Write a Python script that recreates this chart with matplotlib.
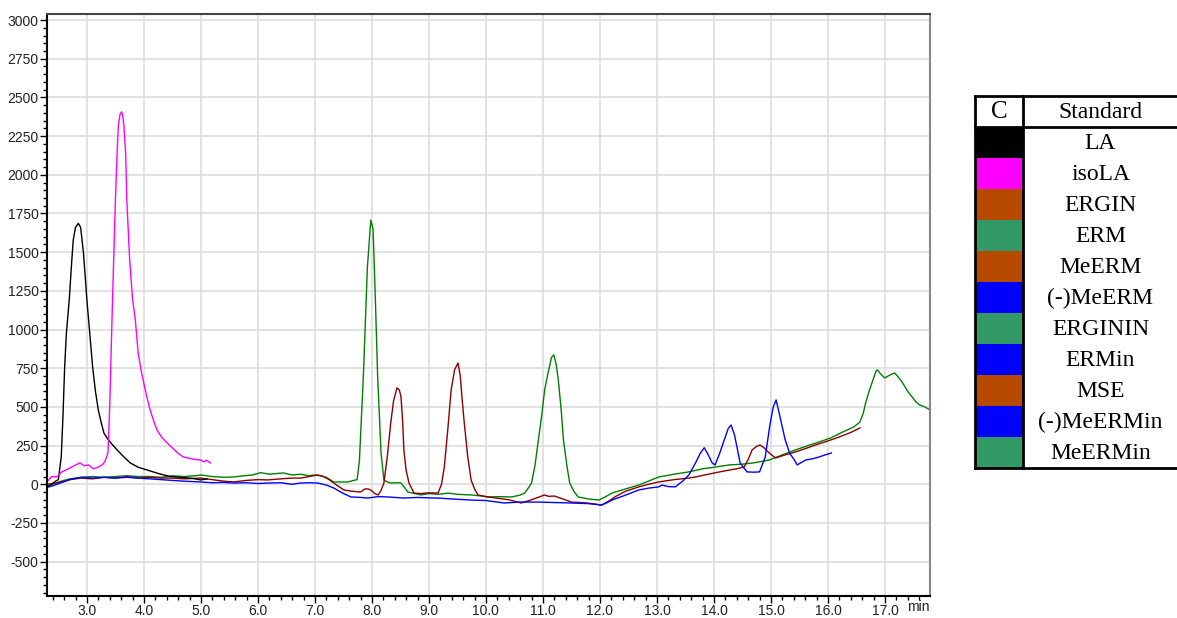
import matplotlib
matplotlib.use("Agg")
import matplotlib.pyplot as plt
from matplotlib.patches import Rectangle
from matplotlib.ticker import MultipleLocator, FormatStrFormatter

plt.rcParams["font.family"] = ["Liberation Sans", "DejaVu Sans"]
plt.rcParams["axes.unicode_minus"] = False

# ---------------------------------------------------------------------------
# Chromatogram traces (retention time in min, detector response)
# ---------------------------------------------------------------------------

black_t = [2.31, 2.38, 2.45, 2.50, 2.55, 2.58, 2.61, 2.64, 2.69, 2.73, 2.76, 2.80,
           2.85, 2.89, 2.94, 3.00, 3.05, 3.10, 3.15, 3.20, 3.25, 3.30, 3.37, 3.45,
           3.53, 3.64, 3.76, 3.90, 4.06, 4.25, 4.46, 4.65, 4.85, 5.00, 5.11]
black_v = [-17, 0, 20, 30, 178, 440, 760, 977, 1190, 1420, 1578, 1660,
           1686, 1660, 1494, 1190, 977, 760, 600, 480, 400, 330, 290, 255,
           222, 180, 138, 110, 92, 70, 50, 45, 38, 28, 35]

magenta_t = [2.31, 2.38, 2.47, 2.56, 2.65, 2.75, 2.88, 2.95, 3.03, 3.11, 3.20, 3.28,
             3.32, 3.37, 3.40, 3.45, 3.50, 3.53, 3.55, 3.58, 3.61, 3.63, 3.65, 3.68,
             3.70, 3.75, 3.80, 3.85, 3.90, 3.96, 4.05, 4.11, 4.18, 4.23, 4.32, 4.41,
             4.50, 4.60, 4.69, 4.80, 4.90, 4.99, 5.05, 5.10, 5.17]
magenta_v = [20, 50, 47, 80, 95, 115, 138, 120, 125, 100, 110, 130,
             150, 203, 500, 1200, 1837, 2138, 2310, 2390, 2407, 2380, 2310, 2138,
             1837, 1450, 1200, 1060, 846, 718, 566, 479, 400, 350, 300, 266,
             235, 200, 176, 168, 160, 157, 145, 155, 138]

green_t = [2.30, 2.40, 2.55, 2.70, 2.90, 3.10, 3.30, 3.50, 3.70, 3.90, 4.10, 4.30,
           4.50, 4.70, 4.90, 5.00, 5.20, 5.40, 5.57, 5.75, 5.90, 6.05, 6.20, 6.35,
           6.45, 6.60, 6.75, 6.90, 6.98, 7.10, 7.20, 7.33, 7.45, 7.58, 7.68, 7.74,
           7.78, 7.85, 7.92, 7.98, 8.02, 8.06, 8.10, 8.16, 8.21, 8.27, 8.33, 8.45,
           8.51, 8.57, 8.63, 8.75, 8.86, 9.00, 9.16, 9.34, 9.50, 9.74, 9.90, 10.04,
           10.25, 10.45, 10.60, 10.68, 10.75, 10.80, 10.86, 10.92, 10.98, 11.03, 11.09, 11.15,
           11.19, 11.23, 11.27, 11.32, 11.36, 11.42, 11.47, 11.55, 11.62, 11.80, 11.98, 12.10,
           12.21, 12.45, 12.68, 12.85, 13.03, 13.30, 13.56, 13.80, 14.00, 14.27, 14.50, 14.67,
           14.80, 14.97, 15.20, 15.43, 15.65, 15.85, 16.05, 16.26, 16.45, 16.56, 16.62, 16.66,
           16.72, 16.79, 16.84, 16.87, 16.93, 17.00, 17.08, 17.17, 17.24, 17.31, 17.40, 17.49,
           17.55, 17.61, 17.70, 17.79]
green_v = [-10, 0, 20, 35, 45, 50, 45, 50, 55, 50, 50, 45,
           55, 50, 55, 60, 50, 45, 47, 55, 60, 75, 65, 70,
           73, 60, 65, 55, 60, 55, 45, 15, 15, 15, 25, 30,
           150, 700, 1400, 1707, 1650, 1200, 700, 202, 28, 15, 8, 10,
           8, -20, -50, -60, -69, -60, -65, -57, -65, -69, -75, -82,
           -80, -82, -70, -57, -20, 8, 120, 286, 450, 610, 720, 820,
           836, 780, 674, 480, 286, 120, 8, -50, -82, -95, -102, -80,
           -57, -30, -5, 20, 47, 65, 80, 100, 110, 125, 130, 137,
           145, 157, 190, 222, 250, 274, 300, 338, 370, 402, 460, 525,
           600, 674, 730, 739, 710, 687, 705, 719, 690, 655, 600, 558,
           530, 512, 500, 480]

red_t = [2.30, 2.40, 2.55, 2.70, 2.90, 3.10, 3.30, 3.50, 3.70, 3.90, 4.10, 4.30,
         4.50, 4.70, 4.99, 5.20, 5.40, 5.57, 5.80, 6.00, 6.17, 6.40, 6.60, 6.75,
         6.90, 7.05, 7.15, 7.25, 7.33, 7.42, 7.51, 7.65, 7.80, 7.88, 7.93, 7.98,
         8.05, 8.11, 8.16, 8.21, 8.27, 8.33, 8.38, 8.44, 8.48, 8.51, 8.54, 8.56,
         8.60, 8.65, 8.74, 8.85, 9.00, 9.16, 9.22, 9.27, 9.33, 9.39, 9.45, 9.51,
         9.55, 9.58, 9.62, 9.68, 9.74, 9.80, 9.86, 10.00, 10.20, 10.40, 10.62, 10.80,
         10.95, 11.03, 11.10, 11.20, 11.35, 11.50, 11.75, 12.03, 12.15, 12.26, 12.45, 12.68,
         12.85, 13.03, 13.30, 13.56, 13.67, 13.90, 14.10, 14.27, 14.40, 14.53, 14.60, 14.67,
         14.75, 14.81, 14.88, 14.97, 15.08, 15.25, 15.43, 15.60, 15.78, 16.00, 16.20, 16.40,
         16.56]
red_v = [0, 5, 15, 30, 40, 35, 45, 40, 50, 40, 45, 40,
         40, 35, 40, 30, 20, 15, 25, 30, 28, 35, 40, 40,
         50, 60, 50, 30, 8, -15, -37, -45, -50, -30, -30, -37,
         -60, -69, -40, 8, 180, 396, 540, 623, 610, 566, 400, 222,
         90, 8, -57, -60, -55, -57, 0, 112, 350, 610, 740, 784,
         700, 560, 396, 180, 28, -30, -69, -80, -90, -100, -121, -100,
         -80, -69, -78, -76, -95, -115, -120, -134, -110, -82, -45, -17,
         0, 15, 30, 40, 47, 65, 80, 92, 100, 112, 160, 222,
         245, 254, 235, 202, 170, 190, 209, 230, 254, 280, 306, 335,
         364]

blue_t = [2.30, 2.40, 2.55, 2.70, 2.90, 3.10, 3.30, 3.50, 3.70, 3.90, 4.10, 4.30,
          4.50, 4.70, 4.99, 5.20, 5.40, 5.57, 5.80, 6.00, 6.17, 6.40, 6.60, 6.75,
          6.90, 7.05, 7.20, 7.33, 7.45, 7.63, 7.80, 7.93, 8.10, 8.28, 8.40, 8.56,
          8.80, 9.00, 9.16, 9.40, 9.74, 10.00, 10.32, 10.60, 10.92, 11.20, 11.50, 11.80,
          12.03, 12.12, 12.21, 12.45, 12.68, 12.85, 13.03, 13.09, 13.20, 13.32, 13.45, 13.56,
          13.68, 13.76, 13.83, 13.90, 13.97, 14.02, 14.10, 14.18, 14.25, 14.30, 14.36, 14.46,
          14.58, 14.70, 14.80, 14.90, 14.98, 15.04, 15.09, 15.15, 15.25, 15.33, 15.41, 15.46,
          15.53, 15.61, 15.73, 15.85, 15.95, 16.06]
blue_v = [-20, -10, 10, 30, 45, 40, 45, 40, 45, 40, 35, 30,
          25, 20, 15, 10, 12, 8, 10, 5, 8, 10, 0, 8,
          10, 8, -5, -24, -50, -82, -85, -89, -80, -82, -85, -89,
          -85, -88, -89, -95, -102, -105, -121, -115, -115, -118, -121, -125,
          -134, -120, -102, -70, -37, -25, -17, -5, -15, -17, 20, 60,
          140, 200, 236, 190, 137, 125, 200, 286, 360, 383, 320, 137,
          80, 78, 80, 177, 380, 500, 545, 450, 286, 200, 157, 125,
          140, 157, 165, 177, 190, 202]

# Legend table: swatch colour and standard name
table_colors = ["#000000", "#FF00FF", "#B84A00", "#339966", "#B84A00", "#0000FF",
                "#339966", "#0000FF", "#B84A00", "#0000FF", "#339966"]
table_names = ["LA", "isoLA", "ERGIN", "ERM", "MeERM", "(-)MeERM",
               "ERGININ", "ERMin", "MSE", "(-)MeERMin", "MeERMin"]

W, H = 1177, 618
fig = plt.figure(figsize=(W / 100, H / 100), dpi=100)


def _frac(x0, y0, x1, y1):
    """Pixel box (top-left origin) -> figure fraction rect."""
    return [x0 / W, 1 - y1 / H, (x1 - x0) / W, (y1 - y0) / H]


ax = fig.add_axes(_frac(47, 14, 930, 596))

traces = [
    (green_t, green_v, "#008000"),
    (red_t, red_v, "#8B0000"),
    (blue_t, blue_v, "#0000FF"),
    (black_t, black_v, "#000000"),
    (magenta_t, magenta_v, "#FF00FF"),
]
for t, v, c in traces:
    ax.plot(t, v, color=c, linewidth=1.0)

ax.set_xlim(2.30, 17.79)
ax.set_ylim(-722, 3039)

ax.xaxis.set_major_locator(MultipleLocator(1.0))
ax.xaxis.set_minor_locator(MultipleLocator(0.2))
ax.xaxis.set_major_formatter(FormatStrFormatter("%.1f"))
ax.yaxis.set_major_locator(MultipleLocator(250))
ax.yaxis.set_minor_locator(MultipleLocator(50))
ax.set_yticks([v for v in range(-500, 3001, 250)])

ax.tick_params(axis="both", which="major", direction="out", length=5, width=1.0,
               color="black")
ax.tick_params(axis="both", which="minor", direction="out", length=3, width=1.0,
               color="black")
ax.tick_params(axis="x", labelsize=10, labelcolor="#222222", pad=1)
ax.tick_params(axis="y", labelsize=10, labelcolor="#222222", pad=1)

ax.grid(True, which="major", color="#dddddd", linewidth=1.2)
ax.set_axisbelow(True)

for side, col in [("left", "black"), ("bottom", "black"),
                  ("top", "#444444"), ("right", "#888888")]:
    ax.spines[side].set_color(col)
    ax.spines[side].set_linewidth(1.5)

ax.text(17.58, -0.019, "min", transform=ax.get_xaxis_transform(),
        ha="center", va="center", fontsize=10, color="#222222")

# ---------------------------------------------------------------------------
# Colour / standard table to the right of the plot
# ---------------------------------------------------------------------------

tab = fig.add_axes([0, 0, 1, 1])
tab.set_xlim(0, W)
tab.set_ylim(H, 0)
tab.axis("off")

left, mid, right = 975, 1023, 1178
top, head = 96, 127
row_h = 31.0
bottom = head + row_h * len(table_names)
serif = ["Liberation Serif", "DejaVu Serif"]

for i, (c, name) in enumerate(zip(table_colors, table_names)):
    y0 = head + i * row_h
    tab.add_patch(Rectangle((left, y0), mid - left, row_h, facecolor=c,
                            edgecolor="none"))
    tab.text((mid + right) / 2, y0 + row_h / 2 + 1, name, ha="center",
             va="center", fontsize=17, family=serif)

tab.text((left + mid) / 2, (top + head) / 2 + 1, "C", ha="center",
         va="center", fontsize=18, family=serif)
tab.text((mid + right) / 2, (top + head) / 2 + 1, "Standard", ha="center",
         va="center", fontsize=17, family=serif)

lw = 2.0
tab.plot([left, right], [top, top], color="black", lw=lw)
tab.plot([left, right], [head, head], color="black", lw=lw)
tab.plot([left, right], [bottom, bottom], color="black", lw=lw)
tab.plot([left, left], [top, bottom], color="black", lw=lw)
tab.plot([mid, mid], [top, bottom], color="black", lw=lw)

fig.savefig("out.png", dpi=100)
